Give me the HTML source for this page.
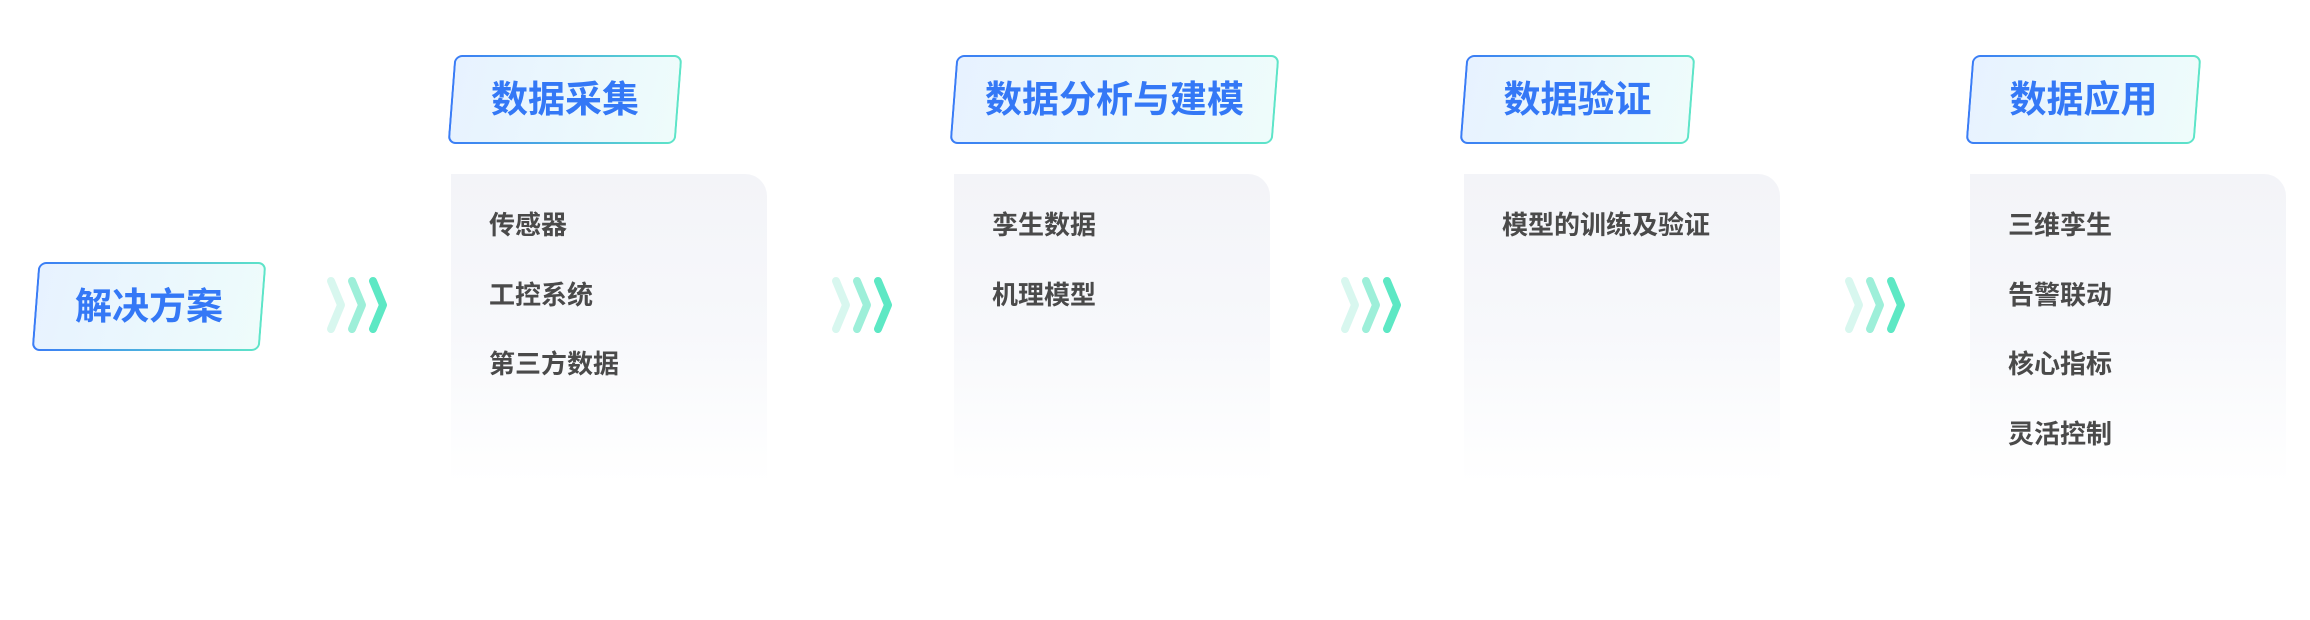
<!DOCTYPE html>
<html><head><meta charset="utf-8"><style>
html,body{margin:0;padding:0;background:#fff;}
body{width:2310px;height:620px;position:relative;overflow:hidden;font-family:"Liberation Sans","Noto Sans CJK SC",sans-serif;}
.hd{position:absolute;height:89px;transform:skewX(-4.4deg);border:2px solid transparent;border-radius:8px;box-sizing:border-box;
background:linear-gradient(100deg,#e7f2ff,#eefcfb) padding-box,linear-gradient(90deg,#3a7cf6,#5ee5c8) border-box;}
.hd span{display:block;transform:skewX(4.4deg);text-align:center;line-height:85px;font-size:37px;font-weight:bold;color:#3478f6;}
.pn{position:absolute;top:174px;width:316px;height:310px;border-radius:0 22px 0 0;background:linear-gradient(180deg,#f3f4f8 0%,#f7f8fb 50%,#ffffff 100%);}
.pn div{position:absolute;left:38px;font-size:26px;font-weight:bold;color:#4a4a4a;line-height:30px;}
svg.ch{position:absolute;top:272px;}
</style></head><body>
<div class="hd" style="left:35px;top:262px;width:228px"><span>解决方案</span></div>

<div class="hd" style="left:451px;top:55px;width:228px"><span>数据采集</span></div>
<div class="hd" style="left:953px;top:55px;width:323px"><span>数据分析与建模</span></div>
<div class="hd" style="left:1463px;top:55px;width:229px"><span>数据验证</span></div>
<div class="hd" style="left:1969px;top:55px;width:229px"><span>数据应用</span></div>

<div class="pn" style="left:451px"><div style="top:36px">传感器</div><div style="top:106px">工控系统</div><div style="top:175px">第三方数据</div></div>
<div class="pn" style="left:954px"><div style="top:36px">孪生数据</div><div style="top:106px">机理模型</div></div>
<div class="pn" style="left:1464px"><div style="top:36px">模型的训练及验证</div></div>
<div class="pn" style="left:1970px"><div style="top:36px">三维孪生</div><div style="top:106px">告警联动</div><div style="top:175px">核心指标</div><div style="top:245px">灵活控制</div></div>

<svg class="ch" style="left:322px" width="72" height="66" viewBox="0 0 72 66"><g fill="none" stroke-width="8" stroke-linecap="round" stroke-linejoin="round"><polyline points="9,9 19,33 9,57" stroke="#d8f7ef"/><polyline points="30,9 40,33 30,57" stroke="#9defd9"/><polyline points="51,9 61,33 51,57" stroke="#5de8c4"/></g></svg>
<svg class="ch" style="left:827px" width="72" height="66" viewBox="0 0 72 66"><g fill="none" stroke-width="8" stroke-linecap="round" stroke-linejoin="round"><polyline points="9,9 19,33 9,57" stroke="#d8f7ef"/><polyline points="30,9 40,33 30,57" stroke="#9defd9"/><polyline points="51,9 61,33 51,57" stroke="#5de8c4"/></g></svg>
<svg class="ch" style="left:1336px" width="72" height="66" viewBox="0 0 72 66"><g fill="none" stroke-width="8" stroke-linecap="round" stroke-linejoin="round"><polyline points="9,9 19,33 9,57" stroke="#d8f7ef"/><polyline points="30,9 40,33 30,57" stroke="#9defd9"/><polyline points="51,9 61,33 51,57" stroke="#5de8c4"/></g></svg>
<svg class="ch" style="left:1840px" width="72" height="66" viewBox="0 0 72 66"><g fill="none" stroke-width="8" stroke-linecap="round" stroke-linejoin="round"><polyline points="9,9 19,33 9,57" stroke="#d8f7ef"/><polyline points="30,9 40,33 30,57" stroke="#9defd9"/><polyline points="51,9 61,33 51,57" stroke="#5de8c4"/></g></svg>
</body></html>
